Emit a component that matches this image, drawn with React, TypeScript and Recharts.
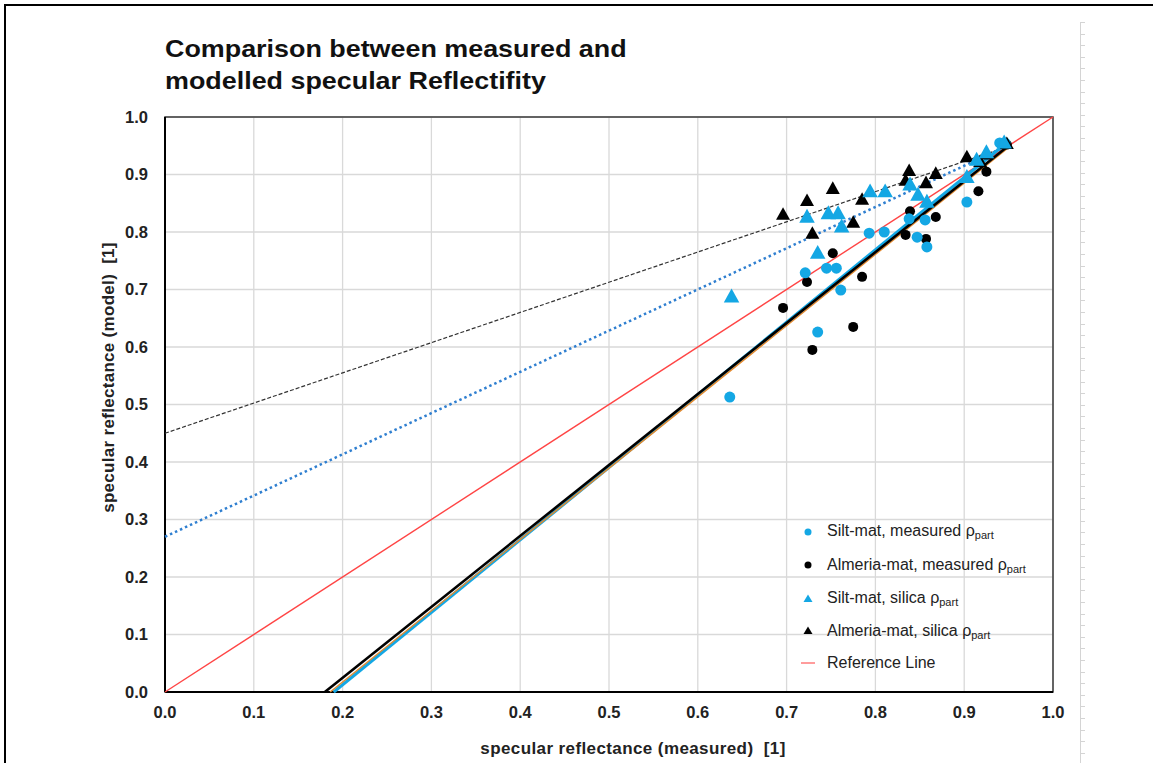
import React from "react";
import {
  ScatterChart,
  Scatter,
  XAxis,
  YAxis,
  CartesianGrid,
  ReferenceArea,
} from "recharts";

// measured points
const siltMeasured = [
  { x: 0.636, y: 0.513 }, { x: 0.721, y: 0.729 }, { x: 0.735, y: 0.626 },
  { x: 0.745, y: 0.737 }, { x: 0.756, y: 0.737 }, { x: 0.761, y: 0.699 },
  { x: 0.793, y: 0.798 }, { x: 0.81, y: 0.8 }, { x: 0.838, y: 0.823 },
  { x: 0.847, y: 0.791 }, { x: 0.856, y: 0.821 }, { x: 0.858, y: 0.774 },
  { x: 0.903, y: 0.852 }, { x: 0.94, y: 0.955 }, { x: 0.946, y: 0.955 },
];
const almeriaMeasured = [
  { x: 0.696, y: 0.668 }, { x: 0.723, y: 0.713 }, { x: 0.729, y: 0.595 },
  { x: 0.752, y: 0.763 }, { x: 0.775, y: 0.635 }, { x: 0.785, y: 0.722 },
  { x: 0.834, y: 0.795 }, { x: 0.839, y: 0.836 }, { x: 0.857, y: 0.788 },
  { x: 0.868, y: 0.826 }, { x: 0.916, y: 0.871 }, { x: 0.925, y: 0.905 },
  { x: 0.948, y: 0.952 },
];
const siltSilica = [
  { x: 0.638, y: 0.687 }, { x: 0.723, y: 0.826 }, { x: 0.735, y: 0.763 },
  { x: 0.747, y: 0.832 }, { x: 0.758, y: 0.832 }, { x: 0.762, y: 0.809 },
  { x: 0.794, y: 0.87 }, { x: 0.811, y: 0.87 }, { x: 0.839, y: 0.882 },
  { x: 0.848, y: 0.864 }, { x: 0.858, y: 0.852 }, { x: 0.903, y: 0.895 },
  { x: 0.914, y: 0.925 }, { x: 0.925, y: 0.938 }, { x: 0.945, y: 0.955 },
];
const almeriaSilica = [
  { x: 0.696, y: 0.83 }, { x: 0.723, y: 0.854 }, { x: 0.729, y: 0.797 },
  { x: 0.752, y: 0.875 }, { x: 0.775, y: 0.816 }, { x: 0.785, y: 0.856 },
  { x: 0.834, y: 0.889 }, { x: 0.838, y: 0.906 }, { x: 0.857, y: 0.885 },
  { x: 0.868, y: 0.901 }, { x: 0.903, y: 0.93 }, { x: 0.918, y: 0.922 },
  { x: 0.925, y: 0.935 }, { x: 0.948, y: 0.953 },
];

// trend lines (end points)
const referenceLine = [{ x: 0, y: 0 }, { x: 1, y: 1 }];
const almeriaSilicaTrend = [{ x: 0, y: 0.45 }, { x: 0.95, y: 0.949 }];
const siltSilicaTrend = [{ x: 0, y: 0.27 }, { x: 0.95, y: 0.951 }];
const siltMeasuredTrend = [{ x: 0.19, y: 0 }, { x: 0.95, y: 0.958 }];
const orangeTrend = [{ x: 0.186, y: 0 }, { x: 0.95, y: 0.947 }];
const almeriaMeasuredTrend = [{ x: 0.18, y: 0 }, { x: 0.95, y: 0.95 }];

const ticks = [0, 0.1, 0.2, 0.3, 0.4, 0.5, 0.6, 0.7, 0.8, 0.9, 1.0];

const legendNames = [
  "Silt-mat, measured ",
  "Almeria-mat, measured ",
  "Silt-mat, silica ",
  "Almeria-mat, silica ",
  "Reference Line",
];

const BLUE = "#14A7E4";
const FONT = "'Liberation Sans', Arial, sans-serif";

const dot = (color: string, r: number) => (p: any) =>
  <circle cx={p.cx} cy={p.cy} r={r} fill={color} />;

const tri = (color: string, w: number) => (p: any) => {
  const h = w * 0.9;
  return (
    <polygon
      points={`${p.cx},${p.cy - h * 0.6} ${p.cx - w / 2},${p.cy + h * 0.4} ${p.cx + w / 2},${p.cy + h * 0.4}`}
      fill={color}
    />
  );
};

const noShape = () => <g />;

const LegendMark = ({ i }: { i: number }) => {
  if (i === 4) return <line x1={2} y1={8} x2={16} y2={8} stroke="#FF7B7B" strokeWidth={1.5} />;
  const c = i === 0 || i === 2 ? BLUE : "#000";
  if (i < 2) return <circle cx={9} cy={8} r={3.5} fill={c} />;
  return <polygon points="9,3.5 4.5,11 13.5,11" fill={c} />;
};

const titleStyle = { fontSize: 17, fontWeight: 700, fill: "#222", fontFamily: FONT };

const App: React.FC = () => {
  const tickStyle = { fontSize: 16.5, fontWeight: 700, fill: "#222", fontFamily: FONT };
  return (
    <div style={{ position: "absolute", left: 0, top: 0, width: 1153, height: 763, background: "#fff", overflow: "hidden", fontFamily: FONT }}>
      {/* page frame */}
      <div style={{ position: "absolute", left: 4, top: 4, width: 1160, height: 770, borderTop: "2px solid #000", borderLeft: "2px solid #000" }} />
      {/* ruler at right */}
      <div
        style={{
          position: "absolute", left: 1080, top: 22, width: 4, height: 741,
          borderLeft: "1.5px solid #d4d4d4",
          backgroundImage: "repeating-linear-gradient(to bottom, #d4d4d4 0px, #d4d4d4 1px, transparent 1px, transparent 11.6px)",
        }}
      />
      <div
        style={{
          position: "absolute", left: 165, top: 33, fontSize: 24, fontWeight: 700, lineHeight: "32px", color: "#111",
          transform: "scaleX(1.12)", transformOrigin: "left top", whiteSpace: "nowrap",
        }}
      >
        Comparison between measured and
        <br />
        modelled specular Reflectifity
      </div>

      <ScatterChart width={1153} height={763} margin={{ top: 117, right: 100, bottom: 9, left: 85 }}>
        <CartesianGrid stroke="#d9d9d9" strokeWidth={1.3} />
        <XAxis
          type="number"
          dataKey="x"
          domain={[0, 1]}
          ticks={ticks}
          tickFormatter={(v: number) => v.toFixed(1)}
          tick={tickStyle}
          tickSize={0}
          tickMargin={14}
          height={62}
          axisLine={{ stroke: "#000", strokeWidth: 2 }}
          label={{
            content: (props: any) => {
              const vb = props.viewBox;
              return (
                <text
                  x={vb.x + vb.width / 2 + 24}
                  y={vb.y + 56}
                  textAnchor="middle"
                  dominantBaseline="central"
                  style={{ ...titleStyle, letterSpacing: 0.4 }}
                >
                  {"specular reflectance (measured)\u00a0\u00a0[1]"}
                </text>
              );
            },
          }}
        />
        <YAxis
          type="number"
          dataKey="y"
          domain={[0, 1]}
          ticks={ticks}
          tickFormatter={(v: number) => v.toFixed(1)}
          tick={tickStyle}
          tickSize={0}
          tickMargin={17}
          width={80}
          axisLine={{ stroke: "#000", strokeWidth: 2 }}
          label={{
            content: (props: any) => {
              const vb = props.viewBox;
              const cx = vb.x + 23;
              const cy = vb.y + vb.height / 2 - 27;
              return (
                <text
                  x={cx}
                  y={cy}
                  transform={`rotate(-90 ${cx} ${cy})`}
                  textAnchor="middle"
                  dominantBaseline="central"
                  style={{ ...titleStyle, letterSpacing: 0.3 }}
                >
                  {"specular reflectance (model)\u00a0\u00a0[1]"}
                </text>
              );
            },
          }}
        />
        <ReferenceArea x1={0} x2={1} y1={0} y2={1} fill="none" stroke="#3a3a3a" strokeWidth={1.5} ifOverflow="visible" />

        <Scatter data={referenceLine} line={{ stroke: "#FF4545", strokeWidth: 1.4 }} shape={noShape} isAnimationActive={false} />
        <Scatter data={almeriaSilicaTrend} line={{ stroke: "#333", strokeWidth: 1.2, strokeDasharray: "4 2" }} shape={noShape} isAnimationActive={false} />
        <Scatter data={siltSilicaTrend} line={{ stroke: "#2F7FD0", strokeWidth: 2.5, strokeDasharray: "2.5 3" }} shape={noShape} isAnimationActive={false} />
        <Scatter data={siltMeasuredTrend} line={{ stroke: BLUE, strokeWidth: 3.2 }} shape={noShape} isAnimationActive={false} />
        <Scatter data={orangeTrend} line={{ stroke: "#E2892F", strokeWidth: 1.5 }} shape={noShape} isAnimationActive={false} />
        <Scatter data={almeriaMeasuredTrend} line={{ stroke: "#000", strokeWidth: 2.6 }} shape={noShape} isAnimationActive={false} />

        <Scatter name="Almeria-mat, measured" data={almeriaMeasured} shape={dot("#000", 5)} isAnimationActive={false} />
        <Scatter name="Silt-mat, measured" data={siltMeasured} shape={dot(BLUE, 5.5)} isAnimationActive={false} />
        <Scatter name="Almeria-mat, silica" data={almeriaSilica} shape={tri("#000", 14)} isAnimationActive={false} />
        <Scatter name="Silt-mat, silica" data={siltSilica} shape={tri(BLUE, 15.5)} isAnimationActive={false} />
      </ScatterChart>

      {/* legend */}
      <div style={{ position: "absolute", left: 799, top: 515, fontSize: 16, color: "#222" }}>
        {legendNames.map((n, i) => (
          <div key={n} style={{ display: "flex", alignItems: "center", height: i === 3 ? 31 : 33.5 }}>
            <svg width={18} height={16} style={{ marginRight: 10 }}>
              <LegendMark i={i} />
            </svg>
            <span style={{ whiteSpace: "nowrap" }}>
              {n}
              {i < 4 && (
                <span>
                  ρ<sub style={{ fontSize: 11, verticalAlign: "-3px" }}>part</sub>
                </span>
              )}
            </span>
          </div>
        ))}
      </div>
    </div>
  );
};

export default App;
